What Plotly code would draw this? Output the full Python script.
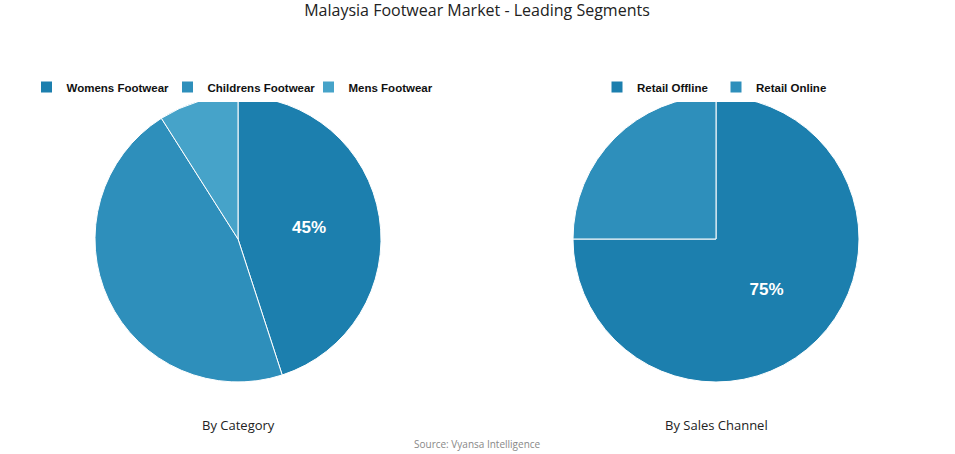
import plotly.graph_objects as go

title = "Malaysia Footwear Market - Leading Segments"
cat_labels = ["Womens Footwear", "Childrens Footwear", "Mens Footwear"]
cat_values = [45, 46, 9]
cat_colors = ["#1c7fae", "#2e8fbb", "#46a3c9"]

ch_labels = ["Retail Offline", "Retail Online"]
ch_values = [75, 25]
ch_colors = ["#1c7fae", "#2e8fbb"]

W, H = 955, 454


def px(x):
    return x / W


def py(y):
    return 1 - y / H


def first_only(vals):
    return [f"{v}%" if i == 0 else "" for i, v in enumerate(vals)]


label_font = dict(family="Liberation Sans", size=17, color="white", weight="bold")

fig = go.Figure()
fig.add_trace(go.Pie(
    labels=cat_labels, values=cat_values, sort=False, direction="clockwise",
    rotation=0, marker=dict(colors=cat_colors, line=dict(color="white", width=1)),
    text=first_only(cat_values), textinfo="text", textposition="inside",
    insidetextfont=label_font,
    domain=dict(x=[px(95), px(381)], y=[py(382), py(96)]),
    legend="legend", hoverinfo="label+percent",
))
fig.add_trace(go.Pie(
    labels=ch_labels, values=ch_values, sort=False, direction="clockwise",
    rotation=0, marker=dict(colors=ch_colors, line=dict(color="white", width=1)),
    text=first_only(ch_values), textinfo="text", textposition="inside",
    insidetextfont=label_font,
    domain=dict(x=[px(573), px(859)], y=[py(382), py(96)]),
    legend="legend2", hoverinfo="label+percent",
))

legend_font = dict(family="Liberation Sans", size=11.5, color="#111", weight="bold")
fig.update_layout(
    width=W, height=H,
    margin=dict(l=0, r=0, t=0, b=0),
    paper_bgcolor="white", plot_bgcolor="white",
    title=dict(text=title, x=px(477), xanchor="center", y=py(10), yanchor="middle",
               font=dict(family="Open Sans", size=16, color="#222")),
    legend=dict(orientation="h", x=px(238), xanchor="center", y=py(87), yanchor="middle",
                font=legend_font, itemwidth=30, tracegroupgap=0, itemclick=False,
                entrywidth=96, entrywidthmode="pixels"),
    legend2=dict(orientation="h", x=px(716), xanchor="center", y=py(87), yanchor="middle",
                 font=legend_font, itemwidth=30, tracegroupgap=0, itemclick=False,
                 entrywidth=74, entrywidthmode="pixels"),
    annotations=[
        dict(text="By Category", x=px(238), y=py(425), xref="paper", yref="paper",
             showarrow=False, xanchor="center", yanchor="middle",
             font=dict(family="Open Sans", size=13, color="#222")),
        dict(text="By Sales Channel", x=px(716), y=py(425), xref="paper", yref="paper",
             showarrow=False, xanchor="center", yanchor="middle",
             font=dict(family="Open Sans", size=13, color="#222")),
        dict(text="Source: Vyansa Intelligence", x=px(477), y=py(444), xref="paper", yref="paper",
             showarrow=False, xanchor="center", yanchor="middle",
             font=dict(family="Open Sans", size=10, color="#888")),
    ],
)

fig.write_html("out.html", config={"displayModeBar": False},
               post_script="document.body.style.margin='0';")
